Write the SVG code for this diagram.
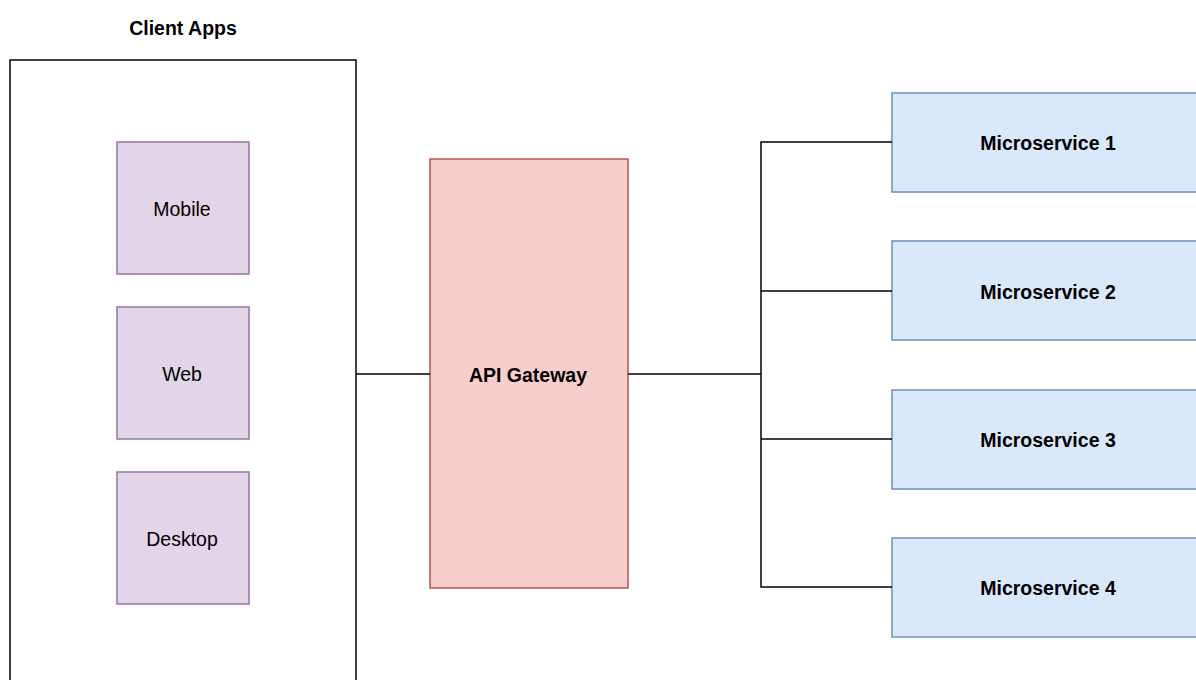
<svg xmlns="http://www.w3.org/2000/svg" width="1196" height="680" viewBox="0 0 1196 680">
  <style>
    text { font-family: "Liberation Sans", Arial, Helvetica, sans-serif; font-size: 19.5px; fill: #000; text-anchor: middle; dominant-baseline: central; }
    .bold { font-weight: bold; }
    .client { fill: #e1d5e7; stroke: #9673a6; stroke-width: 1.5; }
    .gateway { fill: #f8cecc; stroke: #b85450; stroke-width: 1.5; }
    .service { fill: #dae8fc; stroke: #6c8ebf; stroke-width: 1.5; }
    .edge { fill: none; stroke: #000; stroke-width: 1.5; }
  </style>
  <rect width="1196" height="680" fill="#fff"/>

  <!-- client apps container -->
  <g id="client-apps">
    <rect x="10" y="60" width="346" height="640" fill="none" stroke="#000" stroke-width="1.5"/>
    <text class="bold" x="183" y="28">Client Apps</text>
  </g>

  <g id="mobile">
    <rect class="client" x="117" y="142" width="132" height="132"/>
    <text x="182" y="209">Mobile</text>
  </g>
  <g id="web">
    <rect class="client" x="117" y="307" width="132" height="132"/>
    <text x="182" y="374">Web</text>
  </g>
  <g id="desktop">
    <rect class="client" x="117" y="472" width="132" height="132"/>
    <text x="182" y="539">Desktop</text>
  </g>

  <g id="api-gateway">
    <rect class="gateway" x="430" y="159" width="198" height="429"/>
    <text class="bold" x="528" y="375">API Gateway</text>
  </g>

  <g id="microservice-1">
    <rect class="service" x="892" y="93" width="312" height="99"/>
    <text class="bold" x="1048" y="143">Microservice 1</text>
  </g>
  <g id="microservice-2">
    <rect class="service" x="892" y="241" width="312" height="99"/>
    <text class="bold" x="1048" y="292">Microservice 2</text>
  </g>
  <g id="microservice-3">
    <rect class="service" x="892" y="390" width="312" height="99"/>
    <text class="bold" x="1048" y="440">Microservice 3</text>
  </g>
  <g id="microservice-4">
    <rect class="service" x="892" y="538" width="312" height="99"/>
    <text class="bold" x="1048" y="588">Microservice 4</text>
  </g>

  <!-- connectors -->
  <g id="connectors">
    <path class="edge" d="M356 374 H430"/>
    <path class="edge" d="M628 374 H761"/>
    <path class="edge" d="M892 142 H761 V587 H892"/>
    <path class="edge" d="M761 291 H892"/>
    <path class="edge" d="M761 439 H892"/>
  </g>
</svg>
